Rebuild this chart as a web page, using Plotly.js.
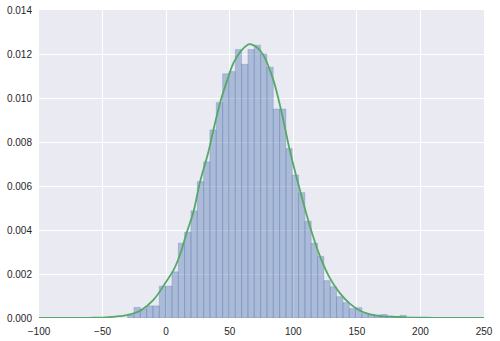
<!DOCTYPE html>
<html>
<head>
<meta charset="utf-8">
<script src="https://cdn.plot.ly/plotly-3.0.1.min.js"></script>
<style>html,body{margin:0;padding:0;background:#fff;}#chart{width:500px;height:341px;}</style>
</head>
<body>
<div id="chart"></div>
<script>
// Histogram (density) – bins
const binStart = -30.3;
const binWidth = 4.98;
const density = [
  0.00014, 0.00048, 0.00041, 0.00055, 0.00055, 0.00145, 0.00145, 0.0021, 0.0034, 0.0039,
  0.00487, 0.0062, 0.0071, 0.00855, 0.0098, 0.0111, 0.0112, 0.0122, 0.01153, 0.0122,
  0.0124, 0.0120, 0.0114, 0.0095, 0.0095, 0.0077, 0.0065, 0.0057, 0.0044, 0.0034,
  0.0028, 0.0017, 0.00142, 0.00097, 0.0007, 0.00043, 0.00047, 0.00021, 0.00017, 0.00014,
  0.00016, 0.00009, 0.00007, 0.00012
];

// KDE curve points
const kdeX = [-100, -80, -60, -50, -40, -36, -30, -20, -10, 0, 6, 11, 16, 21.5, 26.7, 33, 37, 42.5, 48, 53,
  59, 65.5, 71, 76.5, 84.4, 91, 97.5, 105.3, 113.2, 121.1, 128.9, 136.8, 144.7, 152.5, 160.4, 168.2, 176.1, 191.8, 210, 250];
const kdeY = [0, 0, 0.00001, 0.00002, 0.00006, 0.00009, 0.00014, 0.00034, 0.00082, 0.00165, 0.0022, 0.0029, 0.00385, 0.00483, 0.0062, 0.0075, 0.0085, 0.0098, 0.0108, 0.0116,
  0.01215, 0.01245, 0.01232, 0.01195, 0.0108, 0.0093, 0.00756, 0.0058, 0.00415, 0.00279, 0.0018, 0.00112, 0.00064, 0.00033, 0.00017, 0.00009, 0.00006, 0.00002, 0.00001, 0];

const xTickVals = [-100, -50, 0, 50, 100, 150, 200, 250];
const xTickText = ['\u2212100', '\u221250', '0', '50', '100', '150', '200', '250'];
const yTickVals = [0, 0.002, 0.004, 0.006, 0.008, 0.010, 0.012, 0.014];
const yTickText = ['0.000', '0.002', '0.004', '0.006', '0.008', '0.010', '0.012', '0.014'];

const barX = density.map((_, i) => binStart + binWidth * i);

const traces = [
  {
    type: 'bar',
    x: barX,
    y: density,
    width: binWidth,
    offset: 0,
    marker: {color: 'rgba(76,114,176,0.4)', line: {color: 'rgba(76,114,176,0.25)', width: 1}},
    hoverinfo: 'skip'
  },
  {
    type: 'scatter',
    mode: 'lines',
    x: kdeX,
    y: kdeY,
    line: {color: '#55A868', width: 1.8, shape: 'spline', smoothing: 1},
    hoverinfo: 'skip'
  }
];

const axisCommon = {
  showline: false,
  zeroline: false,
  showgrid: true,
  gridcolor: '#FFFFFF',
  gridwidth: 1,
  ticks: 'outside',
  ticklen: 4,
  tickcolor: 'rgba(0,0,0,0)',
  tickfont: {family: 'Liberation Sans, Arial, sans-serif', size: 10, color: '#262626'}
};

const layout = {
  width: 500,
  height: 341,
  margin: {l: 39, r: 16, t: 10, b: 23},
  paper_bgcolor: '#FFFFFF',
  plot_bgcolor: '#EAEAF2',
  showlegend: false,
  barmode: 'overlay',
  xaxis: Object.assign({}, axisCommon, {range: [-100, 250], tickmode: 'array', tickvals: xTickVals, ticktext: xTickText}),
  yaxis: Object.assign({}, axisCommon, {range: [0, 0.014], tickmode: 'array', tickvals: yTickVals, ticktext: yTickText})
};

Plotly.newPlot('chart', traces, layout, {displayModeBar: false, staticPlot: true});
</script>
</body>
</html>
